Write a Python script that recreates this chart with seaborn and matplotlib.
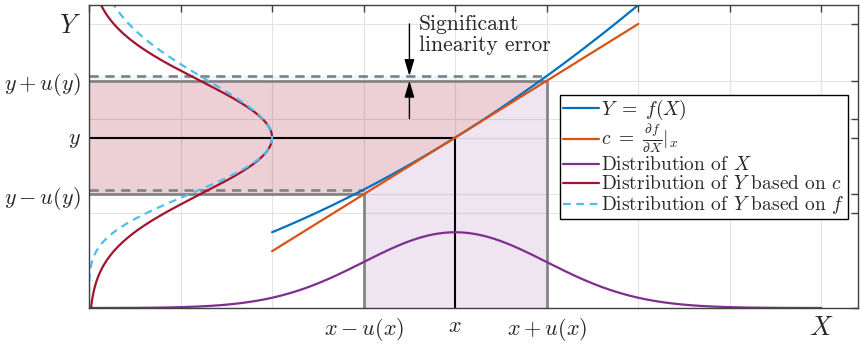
import numpy as np
import pandas as pd
import seaborn as sns
import matplotlib.pyplot as plt

# ---- model parameters -------------------------------------------------
x_mean = 4.0          # operating point x
u_x = 1.0             # standard uncertainty of X
y_mean = 1.8          # y = f(x)
slope_c = 0.6         # sensitivity coefficient c = df/dX at x
curvature = 0.05      # second-order term of f
u_y = slope_c * u_x   # linearised uncertainty of Y
x_pdf_height = 0.8    # drawn height of the X distribution
y_pdf_width = 2.0     # drawn width of the Y distributions
arrow_x = 3.5         # position of the linearity-error marker

x_ticks = [0, 1, 2, 3, 4, 5, 6, 7, 8]
x_tick_labels = ['', '', '', r'$x-u(x)$', r'$x$', r'$x+u(x)$', '', '', r'$X$']
y_ticks = [0, 1, y_mean - u_y, y_mean, 2, y_mean + u_y, 3]
y_tick_labels = ['', '', r'$y-u(y)$', r'$y$', '', r'$y+u(y)$', r'$Y$']

legend_labels = [r'$Y\ =\ f(X)$',
                 r'$c\ =\ \frac{\partial f}{\partial X}|_x$',
                 r'Distribution of $X$',
                 r'Distribution of $Y$ based on $c$',
                 r'Distribution of $Y$ based on $f$']

colors = {'f': '#0072BD', 'c': '#D95319', 'X': '#7E2F8E',
          'Yc': '#A2142F', 'Yf': '#4DBEEE'}


def f(x):
    return y_mean + slope_c * (x - x_mean) + curvature * (x - x_mean) ** 2


def c_line(x):
    return y_mean + slope_c * (x - x_mean)


def profile(x):
    return np.exp(-0.5 * ((x - x_mean) / u_x) ** 2)


# ---- styling -----------------------------------------------------------
sns.set_style('white')
plt.rcParams['font.family'] = ['cmr10', 'DejaVu Serif']
plt.rcParams['mathtext.fontset'] = 'cm'
plt.rcParams['axes.formatter.use_mathtext'] = True
plt.rcParams['axes.unicode_minus'] = False

fig = plt.figure(figsize=(8.6, 3.44), dpi=100)
ax = fig.add_axes([89 / 860, 1 - 308 / 344, (858 - 89) / 860, (308 - 5) / 344])
ax.set_xlim(0, 8.4)
ax.set_ylim(0, 3.2)

# ---- shaded regions ----------------------------------------------------
xs_band = np.linspace(x_mean - u_x, x_mean + u_x, 100)
yf_lo, yf_hi = f(x_mean - u_x), f(x_mean + u_x)
yc_lo, yc_hi = c_line(x_mean - u_x), c_line(x_mean + u_x)

# thin strip between the linear and the true upper bound
ax.fill([0, x_mean + u_x, x_mean + u_x, 0], [yc_hi, yc_hi, yf_hi, yf_hi],
        color=colors['Yf'], alpha=0.1, lw=0, zorder=1)
ax.fill(np.r_[0, xs_band, 0], np.r_[yc_lo, c_line(xs_band), yc_hi],
        color=colors['Yc'], alpha=0.2, lw=0, zorder=1.1)
ax.fill_between(xs_band, 0, c_line(xs_band), color=colors['X'],
                alpha=0.12, lw=0, zorder=1.1)

# ---- guide lines -------------------------------------------------------
gray = '#808080'
ax.plot([0, x_mean + u_x, x_mean + u_x], [yc_hi, yc_hi, 0], color=gray, lw=1.9, zorder=2)
ax.plot([0, x_mean - u_x, x_mean - u_x], [yc_lo, yc_lo, 0], color=gray, lw=1.9, zorder=2)
ax.plot([0, x_mean + u_x], [yf_hi, yf_hi], color=gray, lw=1.9, ls=(0, (3.5, 2.5)), zorder=2)
ax.plot([0, x_mean - u_x], [yf_lo, yf_lo], color=gray, lw=1.9, ls=(0, (3.5, 2.5)), zorder=2)
ax.plot([0, x_mean, x_mean], [y_mean, y_mean, 0], color='black', lw=1.5, zorder=2.1)

# ---- curves ------------------------------------------------------------
xf = np.linspace(2, 6, 200)
xd = np.linspace(0, 8, 400)
xr = np.linspace(x_mean - y_mean / slope_c, 6.5, 400)
xq = np.linspace(-2, 6.1, 500)

curves = [
    ('f', xf, f(xf), '-'),
    ('c', xf, c_line(xf), '-'),
    ('X', xd, x_pdf_height * profile(xd), '-'),
    ('Yc', y_pdf_width * profile(xr), c_line(xr), '-'),
    ('Yf', y_pdf_width * profile(xq), f(xq), '--'),
]
handles = []
for i, (key, cx, cy, style) in enumerate(curves):
    sns.lineplot(x=cx, y=cy, sort=False, estimator=None, ax=ax,
                 color=colors[key], lw=1.6, zorder=3 + i * 0.1)
    line = ax.lines[-1]
    if style == '--':
        line.set_dashes((3.5, 2.5))
    handles.append(line)

# ---- linearity-error marker -------------------------------------------
head = dict(arrowstyle='-|>,head_length=1.0,head_width=0.3', color='black',
            lw=1.0, mutation_scale=10, shrinkA=0, shrinkB=0)
ax.annotate('', xy=(arrow_x, yf_hi), xytext=(arrow_x, 3.0), arrowprops=head, zorder=4)
ax.annotate('', xy=(arrow_x, yc_hi), xytext=(arrow_x, 2.0), arrowprops=head, zorder=4)
ax.text(arrow_x + 0.1, 3.1, 'Significant\nlinearity error', fontsize=15.5,
        va='top', ha='left', linespacing=1.1, zorder=4)

# ---- axes decoration --------------------------------------------------
ax.set_xticks(x_ticks)
ax.set_xticklabels(x_tick_labels, fontsize=16)
ax.set_yticks(y_ticks)
ax.set_yticklabels(y_tick_labels, fontsize=16)
for lbl in ax.get_xticklabels()[-1:] + ax.get_yticklabels()[-1:]:
    lbl.set_fontsize(19)
ax.tick_params(direction='in', length=5, width=1, color='#404040',
               top=True, right=True, pad=6)
ax.grid(True, color='#e3e3e3', lw=0.8, zorder=0)
ax.set_axisbelow(True)
for sp in ax.spines.values():
    sp.set_color('#404040')
    sp.set_linewidth(1.0)
    sp.set_zorder(5)

leg = ax.legend(handles, legend_labels, loc='upper right',
                bbox_to_anchor=(0.987, 0.703), fontsize=14, frameon=True,
                fancybox=False, framealpha=1, edgecolor='black',
                handlelength=1.9, handletextpad=0.1, labelspacing=0.05,
                borderpad=0.15, borderaxespad=0)
leg.get_frame().set_linewidth(1.0)
leg.set_zorder(6)

fig.savefig('out.png', dpi=100)
